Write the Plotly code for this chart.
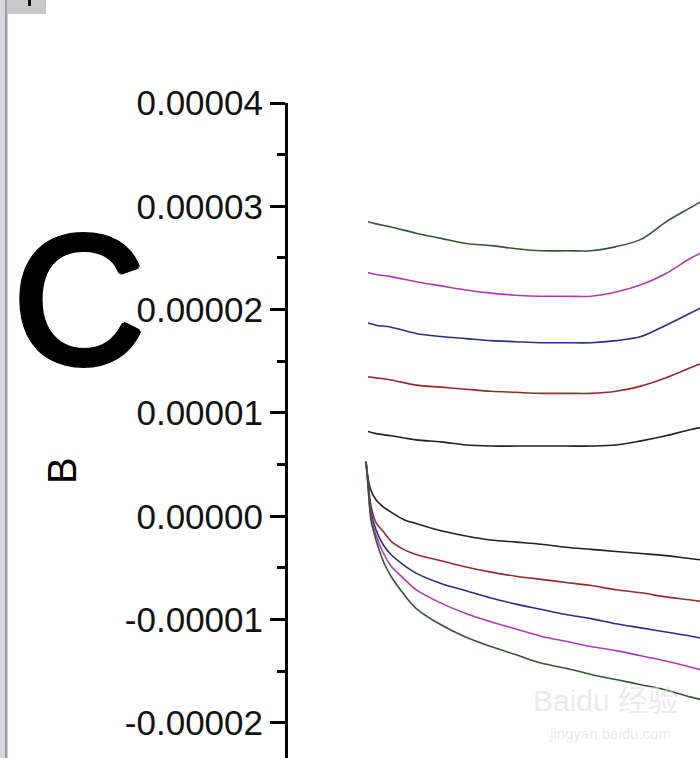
import plotly.graph_objects as go
import numpy as np

# ---------------- data (current in µA, potential in V) ----------------
series_names = ["s1", "s2", "s3", "s4", "s5"]
series_colors = ["#222222", "#9b2a2a", "#283080", "#b03cb0", "#2e5a34"]

E_lower = [0.0, 0.004, 0.01, 0.02, 0.035, 0.05, 0.075, 0.1, 0.15, 0.2,
           0.25, 0.3, 0.35, 0.4, 0.45, 0.5, 0.55, 0.6, 0.65, 0.7]
E_upper = [0.004, 0.02, 0.05, 0.1, 0.15, 0.2, 0.25, 0.3, 0.35, 0.4,
           0.45, 0.5, 0.55, 0.6, 0.65, 0.7]

I_upper_s1 = [8.2, 8.0, 7.8, 7.4, 7.2, 6.9, 6.8, 6.8, 6.8, 6.8, 6.8, 6.9, 7.3, 7.8, 8.4, 8.9]
I_upper_s2 = [13.5, 13.4, 13.2, 12.7, 12.5, 12.3, 12.1, 12.0, 11.9, 11.9, 11.9, 12.1, 12.6, 13.4, 14.4, 15.4]
I_upper_s3 = [18.7, 18.5, 18.3, 17.7, 17.4, 17.2, 17.0, 16.9, 16.8, 16.8, 16.8, 17.0, 17.4, 18.5, 19.7, 20.9]
I_upper_s4 = [23.6, 23.4, 23.2, 22.7, 22.3, 21.9, 21.6, 21.4, 21.3, 21.3, 21.3, 21.7, 22.4, 23.5, 25.0, 26.2]
I_upper_s5 = [28.5, 28.3, 28.0, 27.4, 26.9, 26.4, 26.2, 25.9, 25.7, 25.7, 25.7, 26.1, 26.8, 28.5, 29.9, 31.3]

I_lower_s1 = [5.3, 3.7, 2.5, 1.6, 0.9, 0.4, -0.3, -0.7, -1.4, -1.9, -2.3, -2.5, -2.7, -3.0, -3.2, -3.4, -3.6, -3.8, -4.1, -4.4]
I_lower_s2 = [5.3, 3.5, 1.0, -0.6, -1.5, -2.4, -3.2, -3.7, -4.3, -4.9, -5.4, -5.8, -6.1, -6.4, -6.7, -7.1, -7.4, -7.8, -8.1, -8.5]
I_lower_s3 = [5.3, 3.3, 0.4, -1.3, -2.8, -3.7, -4.7, -5.5, -6.5, -7.2, -7.9, -8.5, -9.0, -9.5, -9.9, -10.4, -10.8, -11.2, -11.6, -12.1]
I_lower_s4 = [5.3, 3.1, 0.0, -1.8, -3.6, -4.8, -6.0, -7.1, -8.4, -9.4, -10.2, -10.9, -11.6, -12.1, -12.6, -13.0, -13.5, -14.0, -14.6, -15.3]
I_lower_s5 = [5.3, 2.9, -0.4, -2.3, -4.4, -5.8, -7.5, -8.9, -10.5, -11.7, -12.6, -13.4, -14.2, -14.7, -15.3, -15.8, -16.3, -16.8, -17.5, -18.1]

y_tick_vals = [-0.00002, -0.00001, 0.0, 0.00001, 0.00002, 0.00003, 0.00004]
y_tick_text = ["-0.00002", "-0.00001", "0.00000", "0.00001", "0.00002", "0.00003", "0.00004"]
y_minor_vals = [-0.000015, -0.000005, 0.000005, 0.000015, 0.000025, 0.000035]

uppers = [I_upper_s1, I_upper_s2, I_upper_s3, I_upper_s4, I_upper_s5]
lowers = [I_lower_s1, I_lower_s2, I_lower_s3, I_lower_s4, I_lower_s5]

# ---------------- figure ----------------
W, H = 700, 758
L, T = 288, 103

def px(x):
    return (x - L) / (W - L)

def py(y):
    return (H - y) / (H - T)

fig = go.Figure()
for name, col, up, lo in zip(series_names, series_colors, uppers, lowers):
    fig.add_trace(go.Scatter(x=E_lower, y=np.array(lo) * 1e-6, mode="lines", name=name,
                             line=dict(color=col, width=1.6, shape="spline", smoothing=0.9),
                             showlegend=False, hoverinfo="skip"))
    fig.add_trace(go.Scatter(x=E_upper, y=np.array(up) * 1e-6, mode="lines", name=name,
                             line=dict(color=col, width=1.6, shape="spline", smoothing=0.9),
                             showlegend=False, hoverinfo="skip"))

font_family = "Liberation Sans, Arial, sans-serif"

fig.update_layout(
    width=W, height=H,
    template="none",
    margin=dict(l=L, r=0, t=T, b=0, pad=0),
    paper_bgcolor="white", plot_bgcolor="white",
    font=dict(family=font_family, color="black"),
    xaxis=dict(range=[-0.156, 0.668], visible=False, automargin=False),
    yaxis=dict(range=[-2.339e-5, 4e-5], tickmode="array", tickvals=y_tick_vals,
               ticktext=y_tick_text, ticks="outside", ticklen=15, tickwidth=3,
               tickcolor="black", showline=True, linewidth=3, linecolor="black",
               showgrid=False, zeroline=False, automargin=False,
               tickfont=dict(size=35, family=font_family, color="#111111"),
               minor=dict(tickvals=y_minor_vals, ticks="outside", ticklen=8,
                          tickwidth=3, tickcolor="black", showgrid=False)),
)

# panel letter and axis title
thick = ", ".join(f"{dx}px {dy}px 0 #000" for dx, dy in
                  [(3, 0), (-3, 0), (0, 3), (0, -3), (2, 2), (-2, 2), (2, -2), (-2, -2)])
fig.add_annotation(text="C", xref="paper", yref="paper", x=px(79), y=py(299),
                   xanchor="center", yanchor="middle", showarrow=False,
                   font=dict(size=183, family=font_family, color="black", shadow=thick))
fig.add_annotation(text="B", xref="paper", yref="paper", x=px(62), y=py(471),
                   xanchor="center", yanchor="middle", showarrow=False, textangle=-90,
                   font=dict(size=40, family=font_family, color="black"))

# watermark
fig.add_annotation(text="Baidu 经验", xref="paper", yref="paper", x=px(605), y=py(700),
                   xanchor="center", yanchor="middle", showarrow=False,
                   font=dict(size=30, family="Liberation Sans, Noto Sans CJK SC", color="rgba(215,215,215,0.5)"))
fig.add_annotation(text="jingyan.baidu.com", xref="paper", yref="paper", x=px(610), y=py(733),
                   xanchor="center", yanchor="middle", showarrow=False,
                   font=dict(size=15, family=font_family, color="rgba(215,215,215,0.5)"))

# window frame at left/top
fig.add_shape(type="rect", xref="paper", yref="paper", x0=px(0), x1=px(5), y0=py(758), y1=py(0),
              fillcolor="#d6d8dc", line=dict(width=0), layer="above")
fig.add_shape(type="rect", xref="paper", yref="paper", x0=px(5), x1=px(7.5), y0=py(758), y1=py(0),
              fillcolor="#9c9ea2", line=dict(width=0), layer="above")
fig.add_shape(type="rect", xref="paper", yref="paper", x0=px(7.5), x1=px(46), y0=py(14), y1=py(0),
              fillcolor="#c9c9c9", line=dict(width=0), layer="above")
fig.add_shape(type="rect", xref="paper", yref="paper", x0=px(28), x1=px(31), y0=py(6), y1=py(0),
              fillcolor="#111111", line=dict(width=0), layer="above")

fig.write_html("out.html", config={"displayModeBar": False},
               post_script="document.body.style.margin='0';")
